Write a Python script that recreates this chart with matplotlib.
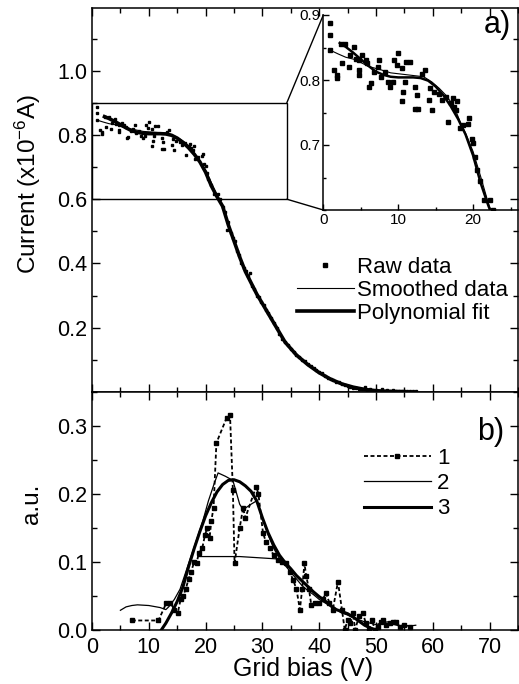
import matplotlib
matplotlib.use("Agg")
import matplotlib.pyplot as plt
import numpy as np
from matplotlib.patches import Rectangle, ConnectionPatch
from matplotlib.ticker import MultipleLocator

# ---------------------------------------------------------------------------
# Data
# ---------------------------------------------------------------------------
# panel a) raw current vs grid bias
raw_v = [0.9, 0.9, 0.9, 1.4, 1.8, 1.8, 2.3, 2.95, 2.5, 3.4, 3.6, 4.1, 4.3, 4.8, 4.8,
         4.8, 5.2, 5.7, 5.9, 6.1, 6.4, 6.8, 7.3, 7.5, 7.7, 8.2, 8.6, 8.9, 9.3, 9.5,
         9.8, 10.0, 10.5, 10.7, 10.5, 10.9, 11.1, 11.6, 12.3, 12.5, 12.3, 12.7, 13.2,
         13.6, 14.1, 14.5, 14.3, 14.8, 15.5, 15.9, 16.4, 16.6, 17.0, 17.3, 17.5, 17.7,
         17.9, 18.2, 18.6, 19.3, 19.5, 19.8, 20.0, 20.2, 20.5, 20.9, 21.4,
         22.2, 22.6, 23.0, 23.4, 23.7, 24.0, 24.4, 24.8, 25.1, 25.5, 25.9, 26.3, 26.7,
         27.1, 27.5, 27.8, 28.2, 28.6, 29.0, 29.4, 29.8, 30.2, 30.6, 31.0, 31.5, 32.0,
         32.5, 33.0, 33.5, 34.0, 34.5, 35.0, 35.5, 36.0, 36.5, 37.0, 37.5, 38.0, 38.5,
         39.0, 39.5, 40.0, 40.5, 41.0, 41.5, 42.0, 42.5, 43.0, 43.5, 44.0, 44.5, 45.0,
         45.5, 46.0, 46.5, 47.0, 47.5, 48.0, 48.5, 49.0, 49.5, 50.0, 50.5, 51.0, 51.5,
         52.0, 52.5, 53.0, 53.5, 54.0, 54.5, 55.0, 55.5, 56.0, 56.5, 57.0]
raw_i = [0.887, 0.869, 0.846, 0.815, 0.808, 0.803, 0.856, 0.856, 0.826, 0.820, 0.838,
         0.851, 0.833, 0.831, 0.815, 0.808, 0.838, 0.831, 0.826, 0.790, 0.795, 0.813,
         0.820, 0.831, 0.805, 0.813, 0.797, 0.790, 0.797, 0.831, 0.823, 0.841, 0.818,
         0.782, 0.767, 0.797, 0.828, 0.828, 0.790, 0.777, 0.756, 0.756, 0.810, 0.815,
         0.769, 0.754, 0.787, 0.782, 0.779, 0.769, 0.774, 0.736, 0.764, 0.772, 0.759,
         0.754, 0.767, 0.726, 0.731, 0.733, 0.741, 0.710, 0.703, 0.682, 0.662, 0.644,
         0.615,
         0.615, 0.600, 0.575, 0.560, 0.505, 0.530, 0.495, 0.480, 0.470, 0.440, 0.425,
         0.400, 0.385, 0.375, 0.360, 0.370, 0.330, 0.320, 0.300, 0.295, 0.280, 0.270,
         0.255, 0.245, 0.230, 0.215, 0.200, 0.180, 0.165, 0.155, 0.145, 0.135, 0.125,
         0.115, 0.108, 0.100, 0.095, 0.088, 0.082, 0.075, 0.070, 0.062, 0.058, 0.050,
         0.045, 0.042, 0.036, 0.032, 0.030, 0.025, 0.022, 0.020, 0.015, 0.013, 0.012,
         0.010, 0.008, 0.015, 0.005, 0.010, 0.004, 0.006, 0.003, 0.008, 0.003, 0.005,
         0.002, 0.006, 0.003, 0.004, 0.002, 0.004, 0.003, 0.002, 0.003, 0.002]

smooth_v = [0.9, 2, 3, 4.4, 5, 6, 7.6, 9, 11.2, 13.4, 14.5, 15.5, 16.5, 17.5, 18.3, 19,
            20, 21, 22, 23, 24, 25, 26, 27, 28, 29, 30, 32, 34, 36, 38, 40, 42, 44, 46,
            48, 50, 52, 55, 57]
smooth_i = [0.846, 0.840, 0.835, 0.831, 0.827, 0.821, 0.816, 0.811, 0.808, 0.805, 0.797,
            0.787, 0.775, 0.758, 0.735, 0.718, 0.690, 0.652, 0.612, 0.578, 0.522, 0.472,
            0.422, 0.377, 0.341, 0.307, 0.276, 0.216, 0.157, 0.116, 0.086, 0.061, 0.041,
            0.026, 0.016, 0.009, 0.005, 0.003, 0.002, 0.001]

fit_v = [2.2, 3, 4, 5, 6, 7, 8, 9, 10, 11, 12, 13, 14, 15, 16, 17, 18, 19, 20, 21, 22,
         23, 24, 25, 26, 27, 28, 29, 30, 32, 34, 36, 38, 40, 42, 44, 46, 48, 50, 52, 55]
fit_i = [0.857, 0.851, 0.842, 0.832, 0.822, 0.813, 0.808, 0.805, 0.804, 0.804, 0.804,
         0.803, 0.799, 0.790, 0.777, 0.760, 0.740, 0.716, 0.684, 0.642, 0.608, 0.578,
         0.520, 0.470, 0.420, 0.375, 0.340, 0.305, 0.275, 0.215, 0.155, 0.115, 0.085,
         0.060, 0.040, 0.025, 0.015, 0.008, 0.004, 0.002, 0.001]

# panel b) derivative curves
d1_v = [7.0, 11.7, 13.1, 13.8, 14.5, 15.1, 15.6, 16.0, 16.5, 17.0, 17.4, 18.0, 18.4,
        18.8, 19.4, 19.9, 20.3, 20.7, 21.0, 21.4, 21.9, 23.7, 24.3, 24.8, 25.1, 26.0,
        26.6, 27.0, 28.9, 29.3, 30.1, 30.6, 31.3, 32.0, 32.7, 33.5, 34.2, 34.8, 35.4,
        36.0, 36.6, 37.0, 37.4, 37.7, 38.2, 38.6, 39.2, 40.0, 40.6, 41.2, 41.8, 42.4,
        43.3, 44.0, 44.5, 45.0, 45.5, 46.0, 46.3, 47.0, 47.7, 48.2, 48.8, 49.3, 49.8,
        50.3, 50.8, 51.2, 51.8, 52.5, 53.0, 53.5, 54.2, 55.0, 55.9]
d1_y = [0.014, 0.014, 0.040, 0.040, 0.030, 0.025, 0.045, 0.050, 0.060, 0.075, 0.085,
        0.100, 0.098, 0.113, 0.120, 0.140, 0.150, 0.135, 0.160, 0.180, 0.275, 0.312,
        0.316, 0.206, 0.098, 0.150, 0.180, 0.165, 0.211, 0.200, 0.143, 0.130, 0.120,
        0.110, 0.103, 0.100, 0.098, 0.085, 0.074, 0.060, 0.030, 0.060, 0.098, 0.080,
        0.060, 0.037, 0.040, 0.040, 0.045, 0.054, 0.040, 0.030, 0.071, 0.030, 0.000,
        0.015, 0.010, 0.025, 0.000, 0.020, 0.025, 0.010, 0.000, 0.015, 0.000, 0.005,
        0.012, 0.015, 0.008, 0.010, 0.012, 0.012, 0.005, 0.008, 0.005]

d2_v = [5, 6, 7, 8, 10, 12, 13, 13.5, 14.5, 15.5, 16.5, 17.5, 18.5, 19.5, 20.5, 21.5,
        22.2, 23.5, 24.8, 26.0, 26.6, 28, 29, 30, 31, 32, 33, 34, 35, 36, 37, 38, 39,
        40, 41, 42, 43, 44, 45, 46, 47, 48, 49, 50, 51, 52, 53, 54, 55, 56, 57,
        np.nan, 18.7, 26.0, 33.6]
d2_y = [0.029, 0.034, 0.036, 0.037, 0.036, 0.033, 0.030, 0.034, 0.045, 0.060, 0.085,
        0.110, 0.135, 0.160, 0.190, 0.215, 0.231, 0.226, 0.220, 0.185, 0.177, 0.185,
        0.190, 0.165, 0.140, 0.120, 0.105, 0.095, 0.085, 0.075, 0.065, 0.058, 0.052,
        0.045, 0.040, 0.035, 0.030, 0.025, 0.022, 0.018, 0.015, 0.012, 0.010, 0.008,
        0.010, 0.012, 0.009, 0.006, 0.007, 0.006, 0.007,
        np.nan, 0.108, 0.108, 0.104]

d3_v = [12.2, 13, 14, 15, 16, 17, 18, 19, 20, 21, 22, 23, 24, 25, 26, 27, 28, 29, 30,
        31, 32, 33, 34, 35, 36, 37, 38, 39, 40, 41, 42, 43, 44, 45, 46, 47, 48, 49, 50]
d3_y = [0.000, 0.010, 0.025, 0.042, 0.063, 0.093, 0.120, 0.145, 0.168, 0.187, 0.203,
        0.214, 0.220, 0.221, 0.218, 0.212, 0.204, 0.190, 0.165, 0.143, 0.125, 0.110,
        0.099, 0.090, 0.080, 0.072, 0.064, 0.056, 0.049, 0.043, 0.036, 0.030, 0.027,
        0.024, 0.019, 0.013, 0.007, 0.003, 0.000]

# ---------------------------------------------------------------------------
# Style
# ---------------------------------------------------------------------------
plt.rcParams.update({
    "font.family": ["Liberation Sans", "DejaVu Sans"],
    "mathtext.default": "regular",
    "axes.linewidth": 1.1,
    "xtick.direction": "in",
    "ytick.direction": "in",
    "xtick.top": True,
    "ytick.right": True,
    "xtick.major.size": 5.8,
    "ytick.major.size": 5.8,
    "xtick.minor.size": 3.6,
    "ytick.minor.size": 3.6,
    "xtick.major.width": 1.0,
    "ytick.major.width": 1.0,
    "xtick.minor.width": 1.0,
    "ytick.minor.width": 1.0,
})

W, H = 519, 684
fig = plt.figure(figsize=(W / 100, H / 100), dpi=100)

def box(x0, y0, x1, y1):
    # pixel box -> figure fraction rect
    return [x0 / W, 1 - y1 / H, (x1 - x0) / W, (y1 - y0) / H]

ax1 = fig.add_axes(box(92, 8, 518, 392))
ax2 = fig.add_axes(box(92, 392, 518, 630))

# ---------------------------------------------------------------------------
# Panel a
# ---------------------------------------------------------------------------
ax1.plot(raw_v, raw_i, ls="none", marker="s", ms=1.9, color="black", label="Raw data")
ax1.plot(smooth_v, smooth_i, color="black", lw=0.8, label="Smoothed data")
ax1.plot(fit_v, fit_i, color="black", lw=2.6, label="Polynomial fit")
ax1.set_xlim(0, 75)
ax1.set_ylim(0, 1.195)
ax1.set_yticks([0.2, 0.4, 0.6, 0.8, 1.0])
ax1.yaxis.set_minor_locator(MultipleLocator(0.1))
ax1.xaxis.set_major_locator(MultipleLocator(10))
ax1.xaxis.set_minor_locator(MultipleLocator(5))
ax1.tick_params(labelbottom=False, labelsize=15.5, pad=3.5)
ax1.set_ylabel("Current (x10$^{-6}$A)", fontsize=17.5)
ax1.yaxis.set_label_coords(-0.115, 0.54)
ax1.text(0.983, 0.955, "a)", transform=ax1.transAxes, fontsize=22,
         ha="right", va="center")
ax1.legend(loc="center left", bbox_to_anchor=(297 / W, 1 - 290.5 / H),
           bbox_transform=fig.transFigure, frameon=False, fontsize=16,
           handlelength=2.55, handletextpad=0.15, labelspacing=0.08,
           borderpad=0, borderaxespad=0, markerscale=1.5)

# zoom rectangle
rect_x1 = 34.3
ax1.add_patch(Rectangle((0, 0.6), rect_x1, 0.3, fill=False, lw=1.0, color="black"))

# ---------------------------------------------------------------------------
# Inset
# ---------------------------------------------------------------------------
axi = fig.add_axes(box(323.3, 15, 518, 210))
axi.patch.set_alpha(0)
axi.plot(raw_v, raw_i, ls="none", marker="s", ms=2.3, color="black")
axi.plot(smooth_v, smooth_i, color="black", lw=0.8)
axi.plot(fit_v, fit_i, color="black", lw=1.8)
axi.set_xlim(0, 26)
axi.set_ylim(0.6, 0.9)
axi.set_xticks([0, 10, 20])
axi.set_yticks([0.7, 0.8, 0.9])
axi.xaxis.set_minor_locator(MultipleLocator(5))
axi.yaxis.set_minor_locator(MultipleLocator(0.05))
axi.spines["top"].set_visible(False)
axi.spines["right"].set_visible(False)
axi.tick_params(which="both", top=False, right=False, labelsize=11, pad=2)
axi.tick_params(which="major", length=4)
axi.tick_params(which="minor", length=2.5)

for yv in (0.9, 0.6):
    con = ConnectionPatch(xyA=(rect_x1, yv), coordsA=ax1.transData,
                          xyB=(0, yv), coordsB=axi.transData,
                          color="black", lw=1.0)
    fig.add_artist(con)

# ---------------------------------------------------------------------------
# Panel b
# ---------------------------------------------------------------------------
ax2.plot(d1_v, d1_y, color="black", lw=1.3, ls=(0, (2.2, 1.4)), marker="s",
         ms=3.2, label="1")
ax2.plot(d2_v, d2_y, color="black", lw=0.9, label="2")
ax2.plot(d3_v, d3_y, color="black", lw=2.2, label="3")
ax2.set_xlim(0, 75)
ax2.set_ylim(0, 0.35)
ax2.set_yticks([0.0, 0.1, 0.2, 0.3])
ax2.yaxis.set_minor_locator(MultipleLocator(0.05))
ax2.xaxis.set_major_locator(MultipleLocator(10))
ax2.xaxis.set_minor_locator(MultipleLocator(5))
ax2.tick_params(labelsize=15.5, pad=3.5)
ax2.tick_params(axis="x", pad=5)
ax2.set_ylabel("a.u.", fontsize=17.5)
ax2.yaxis.set_label_coords(-0.115, 0.53)
ax2.set_xlabel("Grid bias (V)", fontsize=18)
ax2.xaxis.set_label_coords(0.495, -0.115)
ax2.text(0.967, 0.83, "b)", transform=ax2.transAxes, fontsize=22,
         ha="right", va="center")
ax2.legend(loc="center left", bbox_to_anchor=(364 / W, 1 - 483.5 / H),
           bbox_transform=fig.transFigure, frameon=False, fontsize=16,
           handlelength=3.0, handletextpad=0.3, labelspacing=0.2,
           borderpad=0, borderaxespad=0)

fig.savefig("out.png", dpi=100)
plt.close(fig)
